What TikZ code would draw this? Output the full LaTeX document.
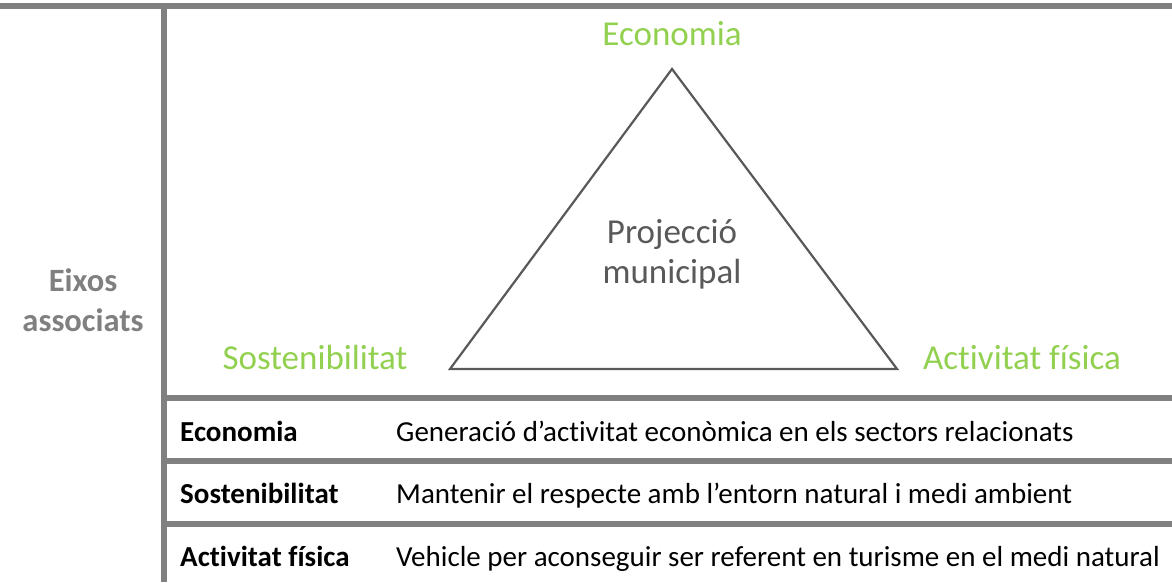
\documentclass[tikz,border=0pt]{standalone}
\usepackage{fontspec}
\setmainfont{Carlito}[Ligatures={NoCommon},RawFeature={-liga;-dlig}]
\definecolor{rule}{HTML}{808080}
\definecolor{tri}{HTML}{595959}
\definecolor{grn}{HTML}{92D050}
\begin{document}
\begin{tikzpicture}[x=1pt,y=-1pt,
  ruleline/.style={draw=rule,line width=6pt},
  vlabel/.style={text=grn,font=\fontsize{35}{40}\selectfont,inner sep=0pt,anchor=base},
  rowhead/.style={font=\fontsize{29}{34}\selectfont\bfseries,inner sep=0pt,anchor=base west},
  rowtext/.style={font=\fontsize{29}{34}\selectfont,inner sep=0pt,anchor=base west},
  sidelabel/.style={font=\fontsize{32.5}{40}\selectfont\bfseries,text=rule,inner sep=0pt,anchor=base}]
\useasboundingbox (0,0) rectangle (1172,582);
% rules
\coordinate (tl) at (0,6);
\coordinate (tr) at (1172,6);
\coordinate (vt) at (164,6);
\coordinate (vb) at (164,582);
\draw[ruleline] (tl) -- (tr);
\draw[ruleline] (vt) -- (vb);
\coordinate (h1a) at (164,398); \coordinate (h1b) at (1172,398);
\coordinate (h2a) at (164,460.5); \coordinate (h2b) at (1172,460.5);
\coordinate (h3a) at (164,524); \coordinate (h3b) at (1172,524);
\draw[ruleline] (h1a) -- (h1b);
\draw[ruleline] (h2a) -- (h2b);
\draw[ruleline] (h3a) -- (h3b);
% triangle
\coordinate (apex) at (672,69);
\coordinate (bl) at (450,369);
\coordinate (br) at (897,369);
\draw[tri,line width=2.2pt,line join=miter] (apex) -- (br) -- (bl) -- cycle;
% vertex labels
\node[vlabel] (eco) at (672,45) {Economia};
\node[vlabel] (sos) at (315,369) {Sostenibilitat};
\node[vlabel] (act) at (1022,369) {Activitat física};
\node[vlabel,text=tri] (proj1) at (672,243) {Projecció};
\node[vlabel,text=tri] (proj2) at (672,283) {municipal};
% left label
\node[sidelabel] (eix1) at (83,291) {Eixos};
\node[sidelabel] (eix2) at (83,331) {associats};
% table
\node[rowhead] (r1h) at (180,441) {Economia};
\node[rowtext] (r1t) at (396,441) {Generació d’activitat econòmica en els sectors relacionats};
\node[rowhead] (r2h) at (180,503) {Sostenibilitat};
\node[rowtext] (r2t) at (396,503) {Mantenir el respecte amb l’entorn natural i medi ambient};
\node[rowhead] (r3h) at (180,566) {Activitat física};
\node[rowtext] (r3t) at (396,566) {Vehicle per aconseguir ser referent en turisme en el medi natural};
\end{tikzpicture}
\end{document}
